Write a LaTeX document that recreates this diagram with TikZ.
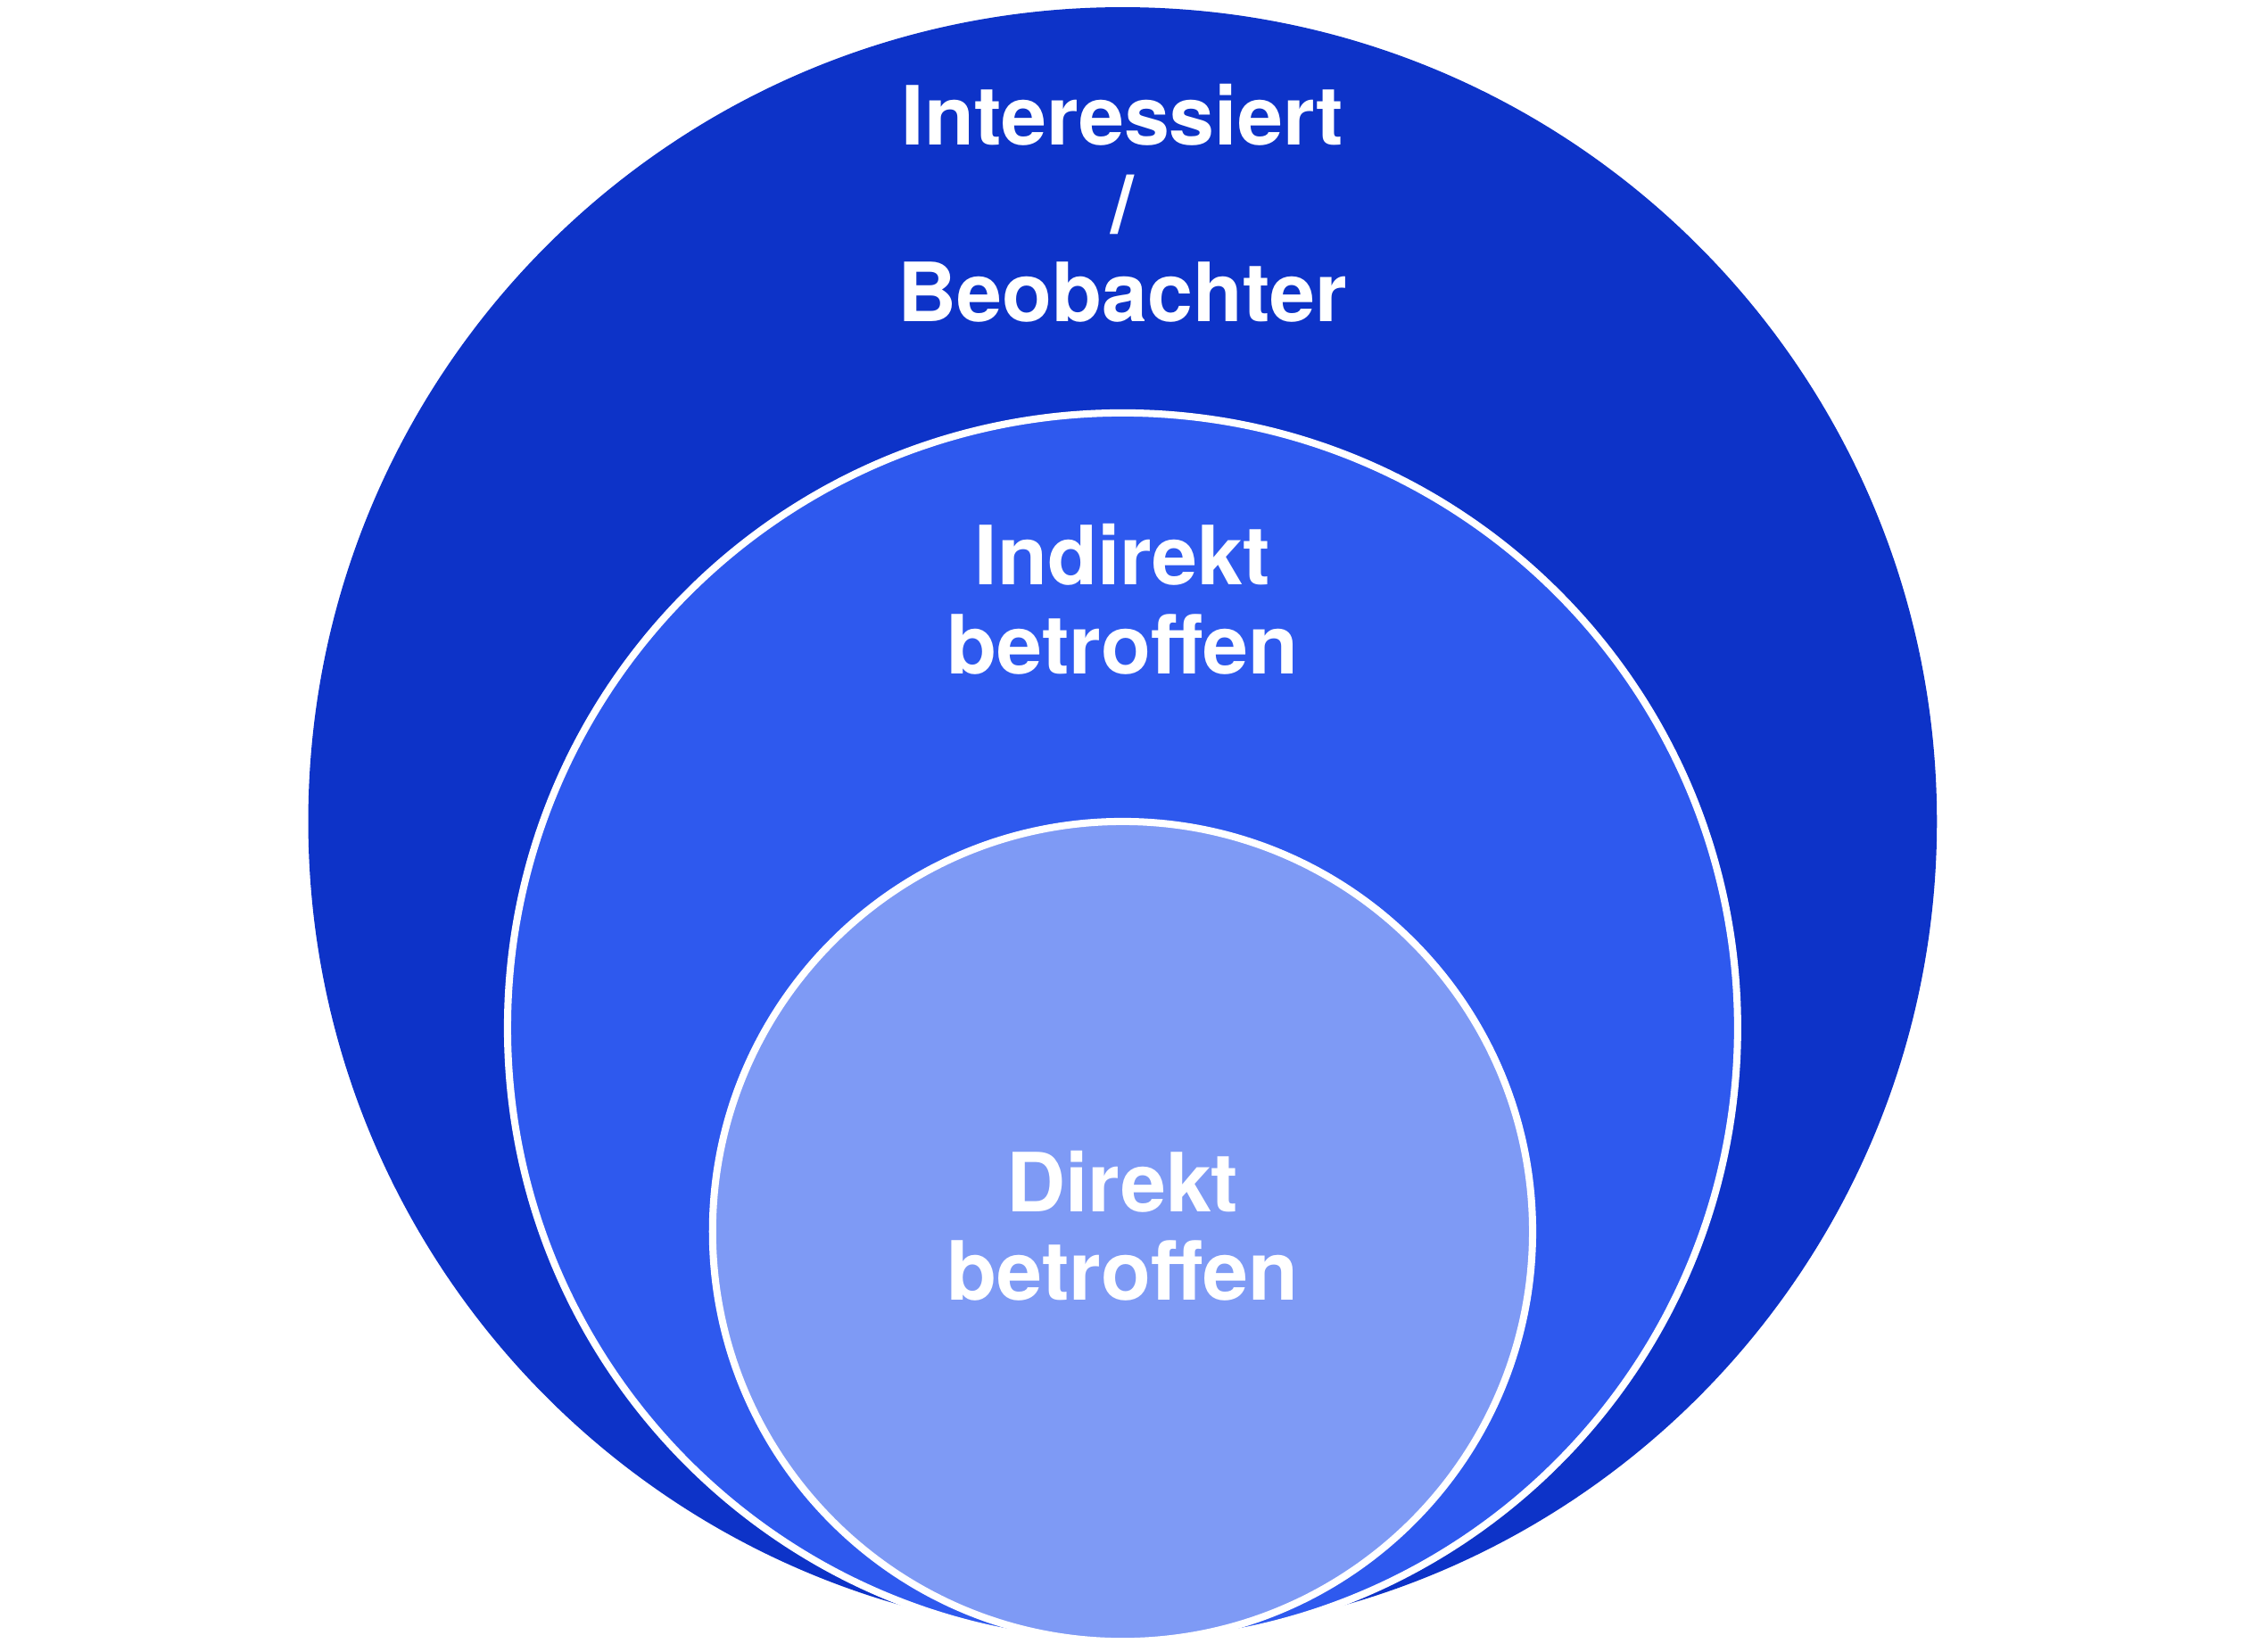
\documentclass[tikz,border=0pt]{standalone}
\usepackage{fontspec}
\setmainfont{TeX Gyre Heros}
\definecolor{outerc}{HTML}{0D33C8}
\definecolor{midc}{HTML}{2E59EE}
\definecolor{innc}{HTML}{7E9AF5}
\begin{document}
\begin{tikzpicture}[x=1pt,y=-1pt,
  lbl/.style={text=white,font=\fontsize{57}{62}\selectfont\bfseries,align=center,anchor=base}]
\useasboundingbox (0,0) rectangle (1568,1152);
\fill[outerc] (783,573) circle[radius=568];
\filldraw[fill=midc,draw=white,line width=5] (783,717) circle[radius=429];
\filldraw[fill=innc,draw=white,line width=5] (783,859) circle[radius=286];
\node[lbl] (t1) at (783,101) {Interessiert};
\node[lbl] (t2) at (783,163) {/};
\node[lbl] (t3) at (783,224) {Beobachter};
\node[lbl] (m1) at (783,408) {Indirekt};
\node[lbl] (m2) at (783,470) {betroffen};
\node[lbl] (i1) at (783,845) {Direkt};
\node[lbl] (i2) at (783,907) {betroffen};
\end{tikzpicture}
\end{document}
